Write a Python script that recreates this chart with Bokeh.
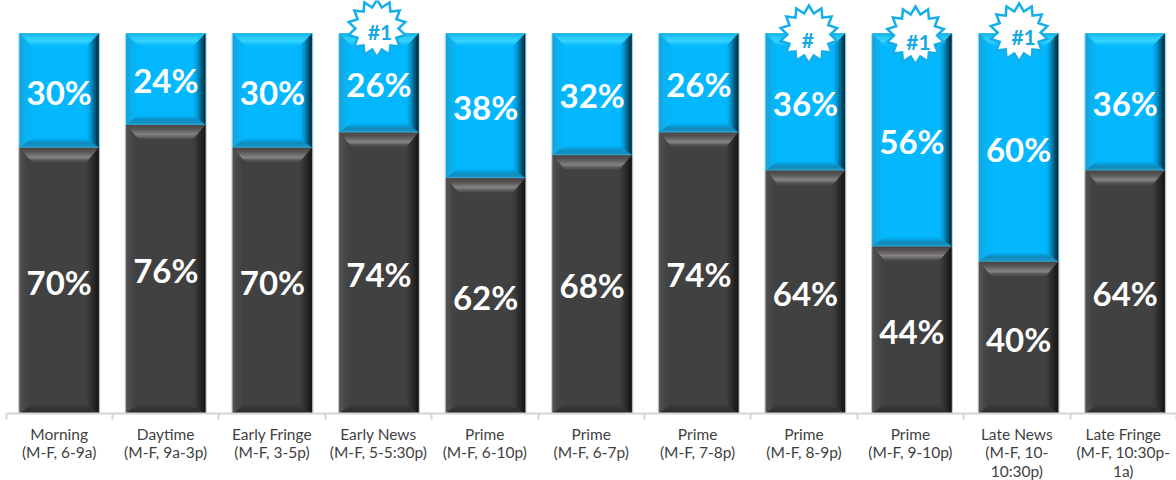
from bokeh.embed import file_html
from bokeh.models import ColumnDataSource, FixedTicker, Range1d
from bokeh.plotting import figure
from bokeh.resources import INLINE
from bokeh.core.properties import value
import math

dayparts = ["Morning\n(M-F, 6-9a)", "Daytime\n(M-F, 9a-3p)", "Early Fringe\n(M-F, 3-5p)",
            "Early News\n(M-F, 5-5:30p)", "Prime\n(M-F, 6-10p)", "Prime\n(M-F, 6-7p)",
            "Prime\n(M-F, 7-8p)", "Prime\n(M-F, 8-9p)", "Prime\n(M-F, 9-10p)",
            "Late News\n(M-F, 10-\n10:30p)", "Late Fringe\n(M-F, 10:30p-\n1a)"]
lower_share = [70, 76, 70, 74, 62, 68, 74, 64, 44, 40, 64]
upper_share = [30, 24, 30, 26, 38, 32, 26, 36, 56, 60, 36]
badge_slots = [3, 7, 8, 9]
badge_texts = ["#1", "#", "#1", "#1"]

W, H = 1176, 480
FRAME_H = 413
PX_X = 106.4                # pixels per category
PX_Y = 3.8                  # pixels per percentage point
LEFT_PAD = 5.5
BAR_W = 79 / PX_X
BAR_DRIFT = 0.2             # extra pixels of spacing between neighbouring bars


def dx(px):
    return px / PX_X


def dy(px):
    return px / PX_Y


def mix(a, b, t):
    ca = [int(a[i:i + 2], 16) for i in (1, 3, 5)]
    cb = [int(b[i:i + 2], 16) for i in (1, 3, 5)]
    return "#%02x%02x%02x" % tuple(round(p + (q - p) * t) for p, q in zip(ca, cb))


def ramp(stops, t):
    for (t0, c0), (t1, c1) in zip(stops, stops[1:]):
        if t <= t1:
            return mix(c0, c1, (t - t0) / (t1 - t0))
    return stops[-1][1]


BLUE = {
    "base": "#04b8ff",
    "depth": {"top": 12, "bottom": 9, "left": 12, "right": 12},
    "top": [(0, "#18aede"), (0.3, "#26c8f6"), (0.65, "#38d6ff"), (1, "#08b8ff")],
    "bottom": [(0, "#3cb0d8"), (0.18, "#1a93c0"), (0.5, "#1288ba"), (1, "#04b4fa")],
    "left": [(0, "#1aa0d0"), (0.4, "#0fb0ec"), (1, "#04b8ff")],
    "right": [(0, "#06202e"), (0.3, "#06506e"), (0.65, "#0690c8"), (1, "#04b8ff")],
}
GREY = {
    "base": "#414141",
    "depth": {"top": 14, "bottom": 9, "left": 12, "right": 12},
    "top": [(0, "#4a4344"), (0.35, "#5c5858"), (0.72, "#8a8a8a"), (1, "#474747")],
    "bottom": [(0, "#2b2b2b"), (0.5, "#343434"), (1, "#414141")],
    "left": [(0, "#555555"), (0.5, "#484848"), (1, "#414141")],
    "right": [(0, "#131313"), (0.35, "#242424"), (1, "#414141")],
}
STEPS = 8


def bevel(x0, x1, y0, y1, style, out):
    """Append mitred, stepped shading bands for one rectangular segment."""
    depth = style["depth"]
    for k in range(STEPS):
        a, b = k / STEPS, (k + 1) / STEPS
        ax0, ax1 = x0 + dx(depth["left"]) * a, x1 - dx(depth["right"]) * a
        bx0, bx1 = x0 + dx(depth["left"]) * b, x1 - dx(depth["right"]) * b
        ay1, ay0 = y1 - dy(depth["top"]) * a, y0 + dy(depth["bottom"]) * a
        by1, by0 = y1 - dy(depth["top"]) * b, y0 + dy(depth["bottom"]) * b
        t = (a + b) / 2
        bands = {
            "left": ([ax0, bx0, bx0, ax0], [ay0, by0, by1, ay1]),
            "right": ([ax1, bx1, bx1, ax1], [ay0, by0, by1, ay1]),
            "bottom": ([ax0, ax1, bx1, bx0], [ay0, ay0, by0, by0]),
            "top": ([ax0, ax1, bx1, bx0], [ay1, ay1, by1, by1]),
        }
        for side, (xs, ys) in bands.items():
            out["xs"].append(xs)
            out["ys"].append(ys)
            out["color"].append(ramp(style[side], t))


centers = [i + 0.5 for i in range(len(dayparts))]
bar_x = [c + dx(BAR_DRIFT * i) for i, c in enumerate(centers)]

p = figure(width=W, height=H, frame_width=W, frame_height=FRAME_H,
           output_backend="svg", toolbar_location=None,
           x_range=Range1d(-LEFT_PAD / PX_X, (W - LEFT_PAD) / PX_X),
           y_range=Range1d(0, FRAME_H / PX_Y),
           min_border_left=0, min_border_right=0, min_border_top=0, min_border_bottom=0,
           outline_line_color=None, background_fill_color="white", border_fill_color="white",
           y_axis_location=None)
p.grid.visible = False

ax = p.xaxis[0]
ax.ticker = FixedTicker(ticks=centers, minor_ticks=list(range(len(dayparts) + 1)))
ax.major_label_overrides = {c: t for c, t in zip(centers, dayparts)}
ax.major_tick_line_color = None
ax.minor_tick_line_color = "#d4d4d4"
ax.minor_tick_line_width = 2
ax.minor_tick_in = 0
ax.minor_tick_out = 6
ax.axis_line_color = "#d4d4d4"
ax.axis_line_width = 2
ax.bounds = (0, len(dayparts))
ax.major_label_text_font = "Lato"
ax.major_label_text_font_size = "15.5px"
ax.major_label_text_color = "#3f3f3f"
ax.major_label_standoff = 5
ax.major_label_text_line_height = 1.05

source = ColumnDataSource(dict(x=bar_x, low=lower_share, high=upper_share,
                               total=[a + b for a, b in zip(lower_share, upper_share)],
                               low_mid=[a / 2 for a in lower_share],
                               high_mid=[a + b / 2 for a, b in zip(lower_share, upper_share)],
                               low_label=[f"{v}%" for v in lower_share],
                               high_label=[f"{v}%" for v in upper_share]))

# Pale halo on the outside of each stacked bar
halo_w = BAR_W + dx(3)
p.vbar(x="x", width=halo_w, bottom=0, top="low", source=source, color="#c6c6c6", line_color=None)
p.vbar(x="x", width=halo_w, bottom="low", top="total", source=source, color="#b4e0f0", line_color=None)

p.vbar(x="x", width=BAR_W, bottom=0, top="low", source=source, color=GREY["base"], line_color=None)
p.vbar(x="x", width=BAR_W, bottom="low", top="total", source=source, color=BLUE["base"], line_color=None)

shade = {"xs": [], "ys": [], "color": []}
for c, lo, hi in zip(bar_x, lower_share, upper_share):
    x0, x1 = c - BAR_W / 2, c + BAR_W / 2
    bevel(x0, x1, 0, lo, GREY, shade)
    bevel(x0, x1, lo, lo + hi, BLUE, shade)
p.patches("xs", "ys", color="color", line_color="color", line_width=0.4, source=ColumnDataSource(shade))

for col, lab in (("low_mid", "low_label"), ("high_mid", "high_label")):
    p.text(x="x", y=col, text=lab, source=source, text_align="center", text_baseline="middle",
           text_color="white", text_font=value("Lato"), text_font_style="bold",
           text_font_size="33px", y_offset=1)

# Starburst badges sitting on the top edge of the leading dayparts:
# (right, up) pixel shifts from the bar's top centre
star_shift = {3: (-2, 5), 7: (3.5, -1), 8: (3.5, -2), 9: (0.5, 1)}
text_shift = {3: (1, 2), 7: (2.5, -6), 8: (6.5, -8), 9: (5, -3)}
star_xs, star_ys, label_x, label_y = [], [], [], []
for slot in badge_slots:
    ox, oy = star_shift[slot]
    cx, cy = bar_x[slot] + dx(ox), 100 + dy(oy)
    xs, ys = [], []
    for k in range(28):
        r = 29 if k % 2 == 0 else 21.5
        ang = math.pi / 2 + k * math.pi / 14
        xs.append(cx + dx(r * math.cos(ang)))
        ys.append(cy + dy(r * math.sin(ang)))
    star_xs.append(xs)
    star_ys.append(ys)
    tx, ty = text_shift[slot]
    label_x.append(bar_x[slot] + dx(tx))
    label_y.append(100 + dy(ty))

p.patches(star_xs, star_ys, fill_color="white", line_color="#14aeea", line_width=2.5, line_join="miter")
p.text(x=label_x, y=label_y, text=badge_texts,
       text_align="center", text_baseline="middle", text_color="#14a8e4",
       text_font=value("Lato"), text_font_style="bold", text_font_size="21px")

open("out.html", "w").write(file_html(p, INLINE))
